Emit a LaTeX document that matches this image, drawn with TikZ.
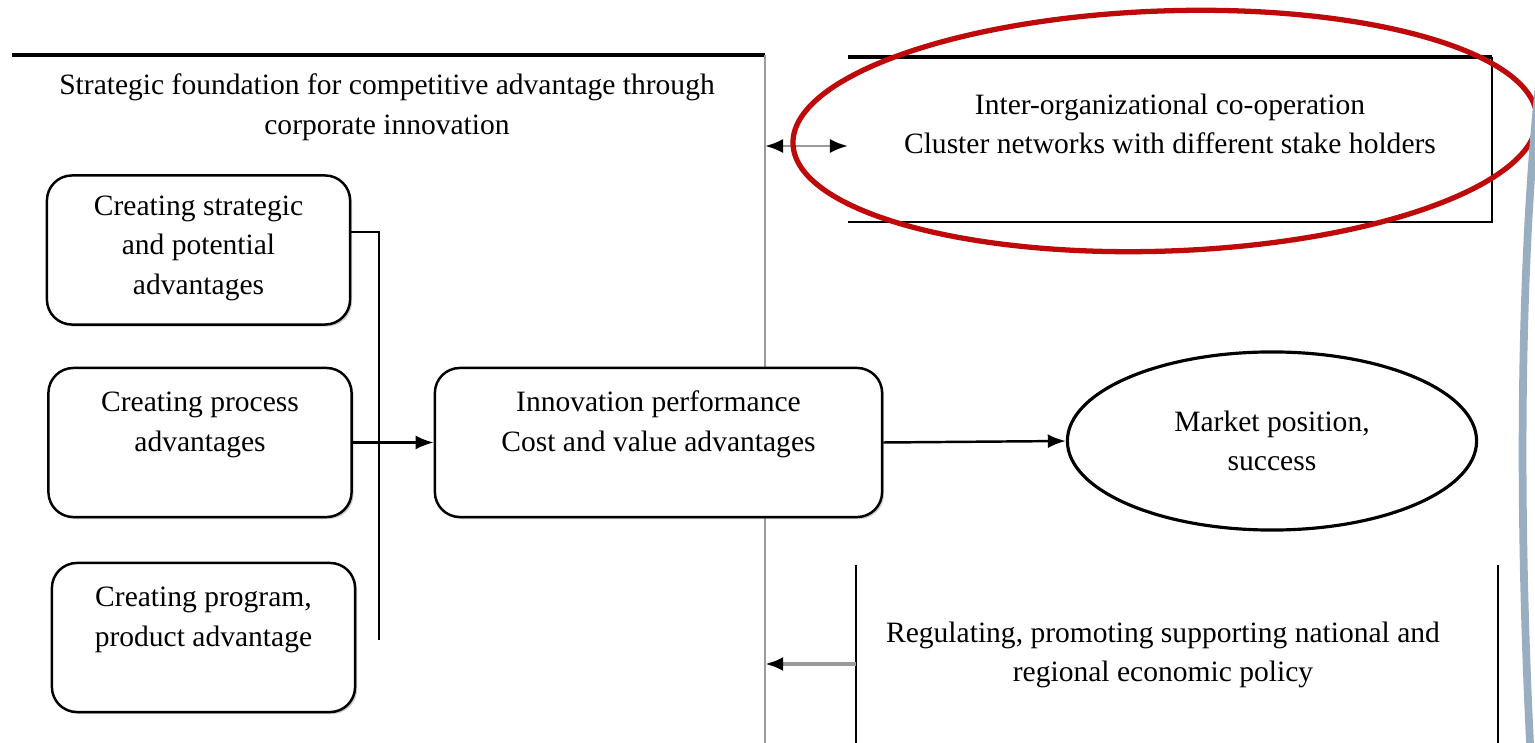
\documentclass[tikz,border=0pt]{standalone}
\usepackage{fontspec}
\setmainfont{Liberation Serif}
\usepackage{tikz}
\usetikzlibrary{arrows, arrows.meta}
\usetikzlibrary{shapes.geometric}
\usetikzlibrary{shadows}
\definecolor{RED}{HTML}{BE0A0A}
\definecolor{BLACK}{HTML}{000000}
\definecolor{GREY}{HTML}{9A9A9A}
\definecolor{BAND}{HTML}{9AAEC2}

\tikzset{
    advbox/.style={draw=BLACK, fill=white, line width=0.7pt, rounded corners=0.25cm, minimum width=3.03cm, minimum height=1.49cm, inner ysep=0pt, align=center, text height=0.83cm, text depth=0.66cm, drop shadow={shadow xshift=0.02cm, shadow yshift=-0.02cm, fill=GREY}},
    txt/.style={align=center, inner sep=0pt},
    arr/.style={BLACK, line width=0.7pt, -{Latex[length=0.18cm, width=0.14cm]}},
    greyarr/.style={GREY, line width=1.4pt, -{Latex[length=0.18cm, width=0.14cm, color=BLACK]}},
}

\begin{document}
\begin{tikzpicture}[x=0.01cm, y=-0.01cm, font=\fontsize{8.4}{11.3}\selectfont]
    \useasboundingbox (0,0) rectangle (1535,743);
    % left panel
    \draw[BLACK, line width=1pt] (12,55) -- (765,55);
    \draw[GREY, line width=0.4pt] (765,55) -- (765,743);
    \node[txt] (title) at (387,107) {Strategic foundation for competitive advantage through\\corporate innovation};
    \node[advbox, text height=1.19cm, text depth=0.30cm] (str) at (198.5,250) {Creating strategic\\and potential\\advantages};
    \node[advbox] (proc) at (200,442.5) {Creating process\\advantages};
    \node[advbox] (prog) at (203.5,637.5) {Creating program,\\product advantage};
    \node[advbox, minimum width=4.47cm] (innov) at (658.5,442.5) {Innovation performance\\Cost and value advantages};
    \node[draw=BLACK, line width=0.9pt, ellipse, minimum width=4.09cm, minimum height=1.78cm, align=center] (mkt) at (1272,441) {Market position,\\success};
    % bracket
    \coordinate (brTop) at (379,232);
    \coordinate (brBot) at (379,640);
    \draw[BLACK, line width=0.7pt] (str.east |- brTop) -- (brTop) -- (brBot);
    \draw[arr] (proc.east) -- (innov.west);
    \draw[arr] (innov.east) -- (mkt.west);
    % co-operation
    \draw[BLACK, line width=1pt] (848,57) -- (1492,57);
    \draw[BLACK, line width=0.7pt] (1492,57) -- (1492,222) -- (848,222);
    \node[txt] (coop) at (1170,124) {Inter-organizational co-operation\\Cluster networks with different stake holders};
    \coordinate (dblL) at (765,146);
    \coordinate (dblR) at (848,146);
    \draw[greyarr, line width=0.8pt, {Latex[length=0.18cm, width=0.14cm, color=BLACK]}-{Latex[length=0.18cm, width=0.14cm, color=BLACK]}] (dblL) -- (dblR);
    % policy
    \draw[BLACK, line width=0.7pt] (856,565) -- (856,743);
    \draw[BLACK, line width=0.7pt] (1498,565) -- (1498,743);
    \node[txt] (policy) at (1163,655) {Regulating, promoting supporting national and\\regional economic policy};
    \coordinate (polL) at (765,664);
    \coordinate (polR) at (856,664);
    \draw[greyarr] (polR) -- (polL);
    % marks
    \draw[RED, line width=1.5pt, rotate around={2:(1165,131)}] (1165,131) ellipse [x radius=3.72cm, y radius=1.2cm];
    \draw[BAND, line width=2.2pt] (1540,75) .. controls (1520,260) and (1518,500) .. (1530,743);
\end{tikzpicture}
\end{document}
